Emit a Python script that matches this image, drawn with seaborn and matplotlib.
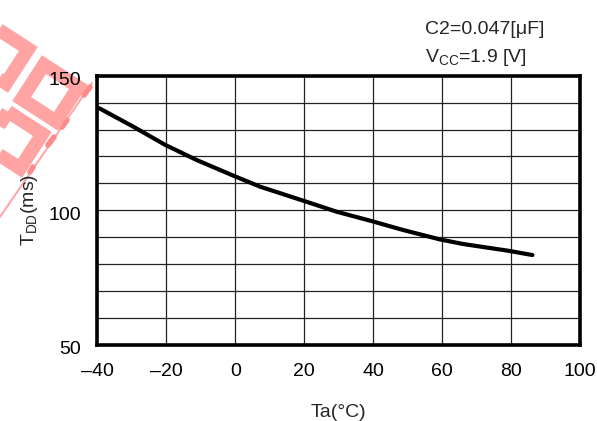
import matplotlib
matplotlib.use("Agg")
import matplotlib.pyplot as plt
import matplotlib.patches as mpatches
import matplotlib.transforms as mtransforms
import seaborn as sns
import pandas as pd
import numpy as np

# Data
temps = [-39.4, -29.6, -20.3, -11.2, -0.4, 7.2, 19.7, 29.4, 39.6, 48.7, 59.4, 66.1, 79.2, 86.2]
tdd = [137.9, 131.1, 124.3, 118.7, 112.8, 108.8, 103.6, 99.5, 96.0, 92.7, 89.2, 87.5, 85.0, 83.4]
xticks = [-40, -20, 0, 20, 40, 60, 80, 100]
xtick_labels = ["\u201340", "\u201320", "0", "20", "40", "60", "80", "100"]
yticks = [50, 100, 150]
ygrid = [60, 70, 80, 90, 110, 120, 130, 140]

sns.set_theme(style="white")
plt.rcParams['font.family'] = ['Liberation Sans', 'DejaVu Sans']

W, H = 597, 421
fig = plt.figure(figsize=(W/100, H/100), dpi=100)
ax = fig.add_axes([97.3/W, 1-345/H, (580-97.3)/W, (345-75.7)/H])

df = pd.DataFrame({"Ta": temps, "TDD": tdd})
sns.lineplot(data=df, x="Ta", y="TDD", ax=ax, color="black", linewidth=3.0, zorder=5)

ax.set_xlim(-40, 100)
ax.set_ylim(50, 150)
ax.set_xticks(xticks)
ax.set_xticklabels(xtick_labels)
ax.set_yticks(yticks)
ax.set_yticks(ygrid, minor=True)
ax.grid(True, which="both", color="#222222", linewidth=0.9)
ax.tick_params(axis="both", which="both", length=0, labelsize=14, colors="black")
ax.tick_params(axis="x", pad=13)
ax.tick_params(axis="y", pad=12)
offset = mtransforms.ScaledTranslation(0, -3/100, fig.dpi_scale_trans)
for lbl in ax.get_yticklabels():
    lbl.set_transform(lbl.get_transform() + offset)
for s in ax.spines.values():
    s.set_visible(True)
    s.set_color("black")
    s.set_linewidth(2.6)

ax.set_xlabel("Ta(\u00b0C)", fontsize=14, labelpad=17)
ax.set_ylabel("T$_{\\mathregular{DD}}$(ms)", fontsize=14, labelpad=6)

fig.text(425/W, 1-30/H, "C2=0.047[\u03bcF]", fontsize=14, ha="left", va="center")
fig.text(425/W, 1-58/H, "V$_{\\mathregular{CC}}$=1.9 [V]", fontsize=14, ha="left", va="center")

# Watermark decoration (pink rotated square outlines), in pixel coords
wm_color = "#ffa3a3"
ident = mtransforms.IdentityTransform()
def square(cx, cy, r, ang_deg):
    pts = []
    for k in range(4):
        a = np.deg2rad(90 + ang_deg + 90*k)
        pts.append((cx + r*np.cos(a), (H - cy) + r*np.sin(a)))
    return pts
for cx, cy in [(50, 93), (14, 140), (0, 55)]:
    poly = mpatches.Polygon(square(cx, cy, 29, 12), closed=True, fill=False,
                            edgecolor=wm_color, linewidth=9.8, joinstyle="miter",
                            transform=ident, zorder=-5)
    fig.patches.append(poly)
fig.lines.append(plt.Line2D([92, 0], [H-83, H-217], transform=ident, color=wm_color,
                            linewidth=1.4, zorder=-5))
for (x1, y1, x2, y2) in [(84, 95, 90, 87), (62, 127, 67, 120), (48, 145, 54, 137), (30, 172, 33, 167)]:
    fig.lines.append(plt.Line2D([x1, x2], [H-y1, H-y2], transform=ident, color="#ff8a8a",
                                linewidth=4, zorder=-5))

fig.savefig("out.png", dpi=100, facecolor="white")
